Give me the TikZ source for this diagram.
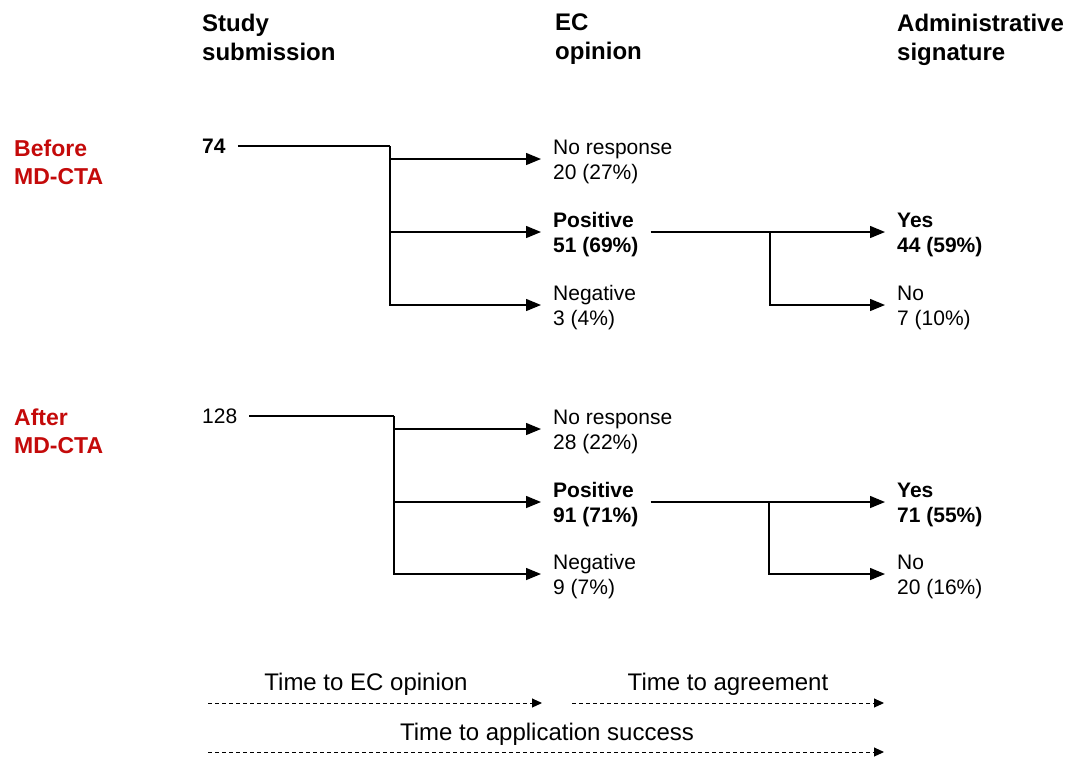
\documentclass[tikz,border=0pt]{standalone}
\usepackage{fontspec}
\setmainfont{Liberation Sans}
\usetikzlibrary{arrows.meta}
\definecolor{mdred}{RGB}{196,10,10}
\begin{document}
\begin{tikzpicture}[x=1pt,y=-1pt,
  hdr/.style={anchor=north west,inner sep=0pt,align=left,font=\fontsize{24}{29}\selectfont\bfseries},
  grp/.style={anchor=west,inner sep=0pt,align=left,text=mdred,font=\fontsize{23}{28}\selectfont\bfseries},
  src/.style={anchor=west,inner xsep=12pt,inner ysep=0pt,font=\fontsize{21}{25}\selectfont},
  lbl/.style={anchor=west,yshift=-3pt,inner xsep=12pt,inner ysep=0pt,align=left,font=\fontsize{21}{25}\selectfont},
  blbl/.style={lbl,font=\fontsize{21}{25}\selectfont\bfseries},
  ttl/.style={inner sep=0pt,font=\fontsize{24}{29}\selectfont},
  ln/.style={line width=1.4pt},
  arr/.style={ln,-{Triangle[length=15pt,width=12pt]}},
  darr/.style={line width=1pt,dash pattern=on 4pt off 3pt,-{Triangle[length=10pt,width=9pt]}}]
\useasboundingbox (0,0) rectangle (1067,756);
% headers
\node[hdr] (hS) at (202,14) {Study\\submission};
\node[hdr] (hE) at (555,14) {EC\\opinion};
\node[hdr] (hA) at (897,14) {Administrative\\signature};
% group labels
\node[grp] (gB) at (14,162) {Before\\MD-CTA};
\node[grp] (gA) at (14,431) {After\\MD-CTA};
% before
\node[src,font=\fontsize{21}{25}\selectfont\bfseries] (n74) at (190,146) {74};
\coordinate (j1) at (390,146);
\node[lbl] (nr1) at (541,159) {No response\\20 (27\%)};
\node[blbl] (po1) at (541,232) {Positive\\51 (69\%)};
\node[lbl] (ng1) at (541,305) {Negative\\3 (4\%)};
\coordinate (j2) at (770,232);
\node[blbl] (ye1) at (885,232) {Yes\\44 (59\%)};
\node[lbl] (no1) at (885,305) {No\\7 (10\%)};
\draw[ln] (n74.east) -- (j1);
\draw[arr] (j1) |- ([yshift=3pt]nr1.west);
\draw[arr] (j1) |- ([yshift=3pt]po1.west);
\draw[arr] (j1) |- ([yshift=3pt]ng1.west);
\draw[ln] ([yshift=3pt]po1.east) -- (j2);
\draw[arr] (j2) -- ([yshift=3pt]ye1.west);
\draw[arr] (j2) |- ([yshift=3pt]no1.west);
% after
\node[src] (n128) at (190,416) {128};
\coordinate (j3) at (394,416);
\node[lbl] (nr2) at (541,429) {No response\\28 (22\%)};
\node[blbl] (po2) at (541,502) {Positive\\91 (71\%)};
\node[lbl] (ng2) at (541,574) {Negative\\9 (7\%)};
\coordinate (j4) at (769,502);
\node[blbl] (ye2) at (885,502) {Yes\\71 (55\%)};
\node[lbl] (no2) at (885,574) {No\\20 (16\%)};
\draw[ln] (n128.east) -- (j3);
\draw[arr] (j3) |- ([yshift=3pt]nr2.west);
\draw[arr] (j3) |- ([yshift=3pt]po2.west);
\draw[arr] (j3) |- ([yshift=3pt]ng2.west);
\draw[ln] ([yshift=3pt]po2.east) -- (j4);
\draw[arr] (j4) -- ([yshift=3pt]ye2.west);
\draw[arr] (j4) |- ([yshift=3pt]no2.west);
% time spans
\node[ttl] (t1) at (366,684) {Time to EC opinion};
\node[ttl] (t2) at (728,684) {Time to agreement};
\node[ttl] (t3) at (547,734) {Time to application success};
\coordinate (d1s) at (208,703);
\coordinate (d1e) at (542,703);
\coordinate (d2s) at (572,703);
\coordinate (d2e) at (884,703);
\coordinate (d3s) at (208,752);
\coordinate (d3e) at (884,752);
\draw[darr] (d1s) -- (d1e);
\draw[darr] (d2s) -- (d2e);
\draw[darr] (d3s) -- (d3e);
\end{tikzpicture}
\end{document}
